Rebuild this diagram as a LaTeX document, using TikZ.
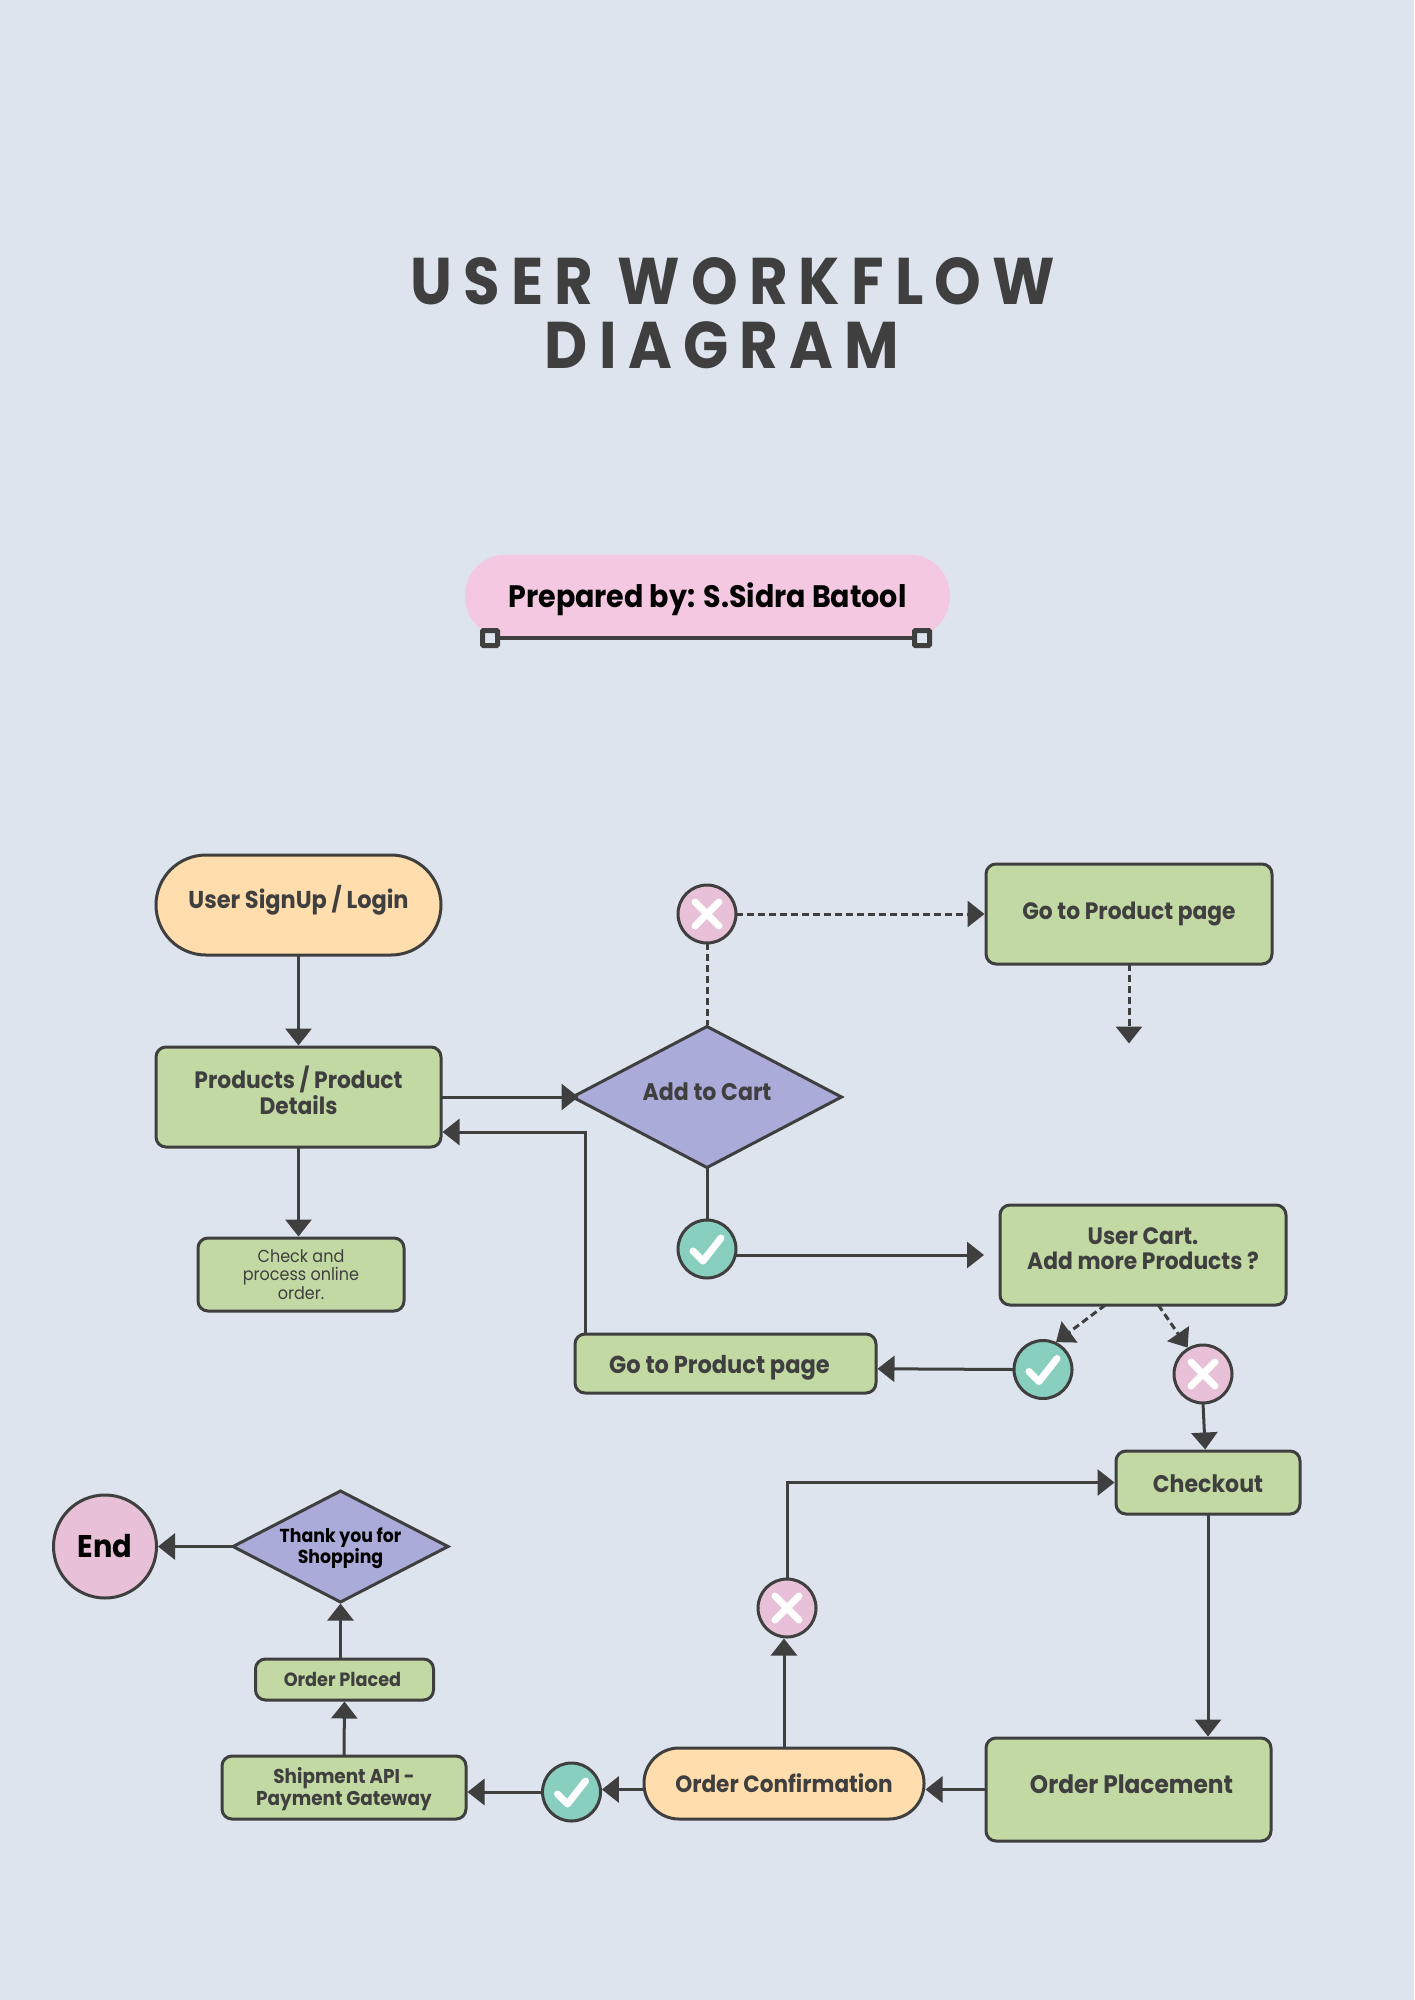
\documentclass[tikz,border=0pt]{standalone}
\usepackage{fontspec}
\setmainfont{Poppins}[FakeStretch=0.92]
\newfontfamily\titlefont[LetterSpace=17,FakeStretch=0.9]{Poppins}
\usetikzlibrary{arrows.meta,shapes.geometric}
\definecolor{pageBlue}{HTML}{DDE4EE}
\definecolor{inkGrey}{HTML}{3F3F3F}
\definecolor{boxGreen}{HTML}{C2D9A4}
\definecolor{pillOrange}{HTML}{FFDDAC}
\definecolor{gateViolet}{HTML}{ABABD9}
\definecolor{noPink}{HTML}{E8C0D8}
\definecolor{yesTeal}{HTML}{89CFC0}
\definecolor{bannerPink}{HTML}{F5C8E2}
\newcommand{\fsize}[2]{\fontsize{#1}{#2}\selectfont}
\newcommand{\lift}[2]{\raisebox{\dimexpr#1-0.25em\relax}[0pt][0pt]{\begin{tabular}{@{}c@{}}#2\end{tabular}}}

\begin{document}
\begin{tikzpicture}[x=1pt, y=-1pt, shorten >=1.5pt]
    \tikzstyle{boxStyle} = [rectangle,draw=inkGrey,fill=boxGreen,line width=3pt,rounded corners=10pt,
        inner sep=0pt,outer sep=0pt,align=center,text=inkGrey,font=\fsize{23.7}{25.5}\bfseries]
    \tikzstyle{pillStyle} = [boxStyle,fill=pillOrange]
    \tikzstyle{gateStyle} = [diamond,shape aspect=1.9,draw=inkGrey,fill=gateViolet,line width=3pt,inner sep=0pt,
        outer sep=0pt,align=center,text=inkGrey,font=\fsize{24}{25.5}\bfseries]
    \tikzstyle{noStyle} = [circle,draw=inkGrey,fill=noPink,line width=3pt,minimum size=58pt,inner sep=0pt,outer sep=0pt]
    \tikzstyle{yesStyle} = [noStyle,fill=yesTeal]
    \tikzstyle{handleStyle} = [rectangle,draw=inkGrey,fill=pageBlue,line width=5pt,rounded corners=1pt,minimum size=15pt,inner sep=0pt,outer sep=0pt]
    \tikzstyle{solidEdge} = [draw=inkGrey,line width=3pt,-{Triangle[length=17pt,width=26pt]}]
    \tikzstyle{dashEdge} = [solidEdge,dash pattern=on 7pt off 4pt]
    \tikzstyle{markStroke} = [draw=white,line width=7pt,line cap=round,line join=round,shorten >=0pt]

    \fill[pageBlue] (0,0) rectangle (1414,2000);
    \useasboundingbox (0,0) rectangle (1414,2000);

    \node[text=inkGrey,align=center,font=\fsize{66}{64}\titlefont\bfseries] (title) at (733,313) {USER WORKFLOW\\DIAGRAM\hspace*{22pt}};

    \node[rectangle,fill=bannerPink,rounded corners=41pt,minimum width=485pt,minimum height=83pt,inner sep=0pt,
        font=\fsize{31}{31}\bfseries,text=black] (banner) at (707.5,596) {\lift{-2pt}{Prepared by: S.Sidra Batool}};
    \node[handleStyle] (handleL) at (490,638) {};
    \node[handleStyle] (handleR) at (922,638) {};
    \draw[draw=inkGrey,line width=4pt,shorten >=0pt] (handleL) -- (handleR);

    \node[pillStyle,rounded corners=50pt,minimum width=285pt,minimum height=100pt,font=\fsize{24.4}{25.5}\bfseries] (signup) at (298.5,905) {\lift{4pt}{User SignUp / Login}};
    \node[boxStyle,minimum width=285pt,minimum height=100pt] (products) at (298.5,1097) {\lift{2.5pt}{Products / Product\\Details}};
    \node[boxStyle,minimum width=206pt,minimum height=73pt,font=\fsize{17.4}{18.5}] (checkOrder) at (301,1274.5) {Check and\\process online\\order.};
    \node[gateStyle,minimum width=269pt,minimum height=141pt] (addCart) at (707,1097) {\lift{1.5pt}{Add to Cart}};
    \node[noStyle] (noCart) at (707,914) {};
    \node[yesStyle] (yesCart) at (707,1249) {};
    \node[boxStyle,minimum width=286pt,minimum height=100pt] (goProduct) at (1129,914) {\lift{-1pt}{Go to Product page}};
    \coordinate (goEnd) at (1129,1045);
    \node[boxStyle,minimum width=286pt,minimum height=100pt] (userCart) at (1143,1255) {\lift{3pt}{User Cart.\\Add more Products ?}};
    \node[yesStyle] (yesBack) at (1043,1369.5) {};
    \node[noStyle] (noBack) at (1203,1374) {};
    \node[boxStyle,minimum width=301pt,minimum height=59pt,font=\fsize{24.5}{25.5}\bfseries] (goBack) at (725.5,1363.5) {\lift{-4.5pt}{Go to Product page}\hspace{12pt}};
    \coordinate (backTurn) at (585,1132);
    \node[boxStyle,minimum width=184pt,minimum height=63pt,font=\fsize{24}{25.5}\bfseries] (checkout) at (1208,1482.5) {\lift{-5pt}{Checkout}};
    \node[boxStyle,minimum width=285pt,minimum height=103pt,font=\fsize{25.3}{26}\bfseries] (orderPlace) at (1128.5,1789.5) {\hspace{6pt}\lift{1.5pt}{Order Placement}};
    \node[pillStyle,rounded corners=35pt,minimum width=280pt,minimum height=71pt,font=\fsize{23.5}{25.5}\bfseries] (orderConf) at (784,1783.5) {Order Confirmation};
    \node[noStyle] (noOrder) at (787,1608) {};
    \node[yesStyle] (yesOrder) at (571.5,1792) {};
    \node[boxStyle,minimum width=244pt,minimum height=63pt,font=\fsize{20}{22}\bfseries] (shipment) at (344,1787.5) {\lift{-2pt}{Shipment API -\\Payment Gateway}};
    \node[boxStyle,minimum width=178pt,minimum height=41pt,font=\fsize{19.2}{20}\bfseries] (orderPlaced) at (344.5,1679.5) {Order Placed\hspace{4pt}};
    \node[gateStyle,minimum width=215pt,minimum height=111pt,text=black,font=\fsize{18.8}{20}\bfseries] (thanks) at (340.5,1546.5) {\lift{-2pt}{Thank you for\\Shopping}};
    \node[circle,draw=inkGrey,fill=noPink,line width=3pt,minimum size=103pt,inner sep=0pt,outer sep=0pt,font=\fsize{31.3}{32}\bfseries] (endNode) at (105,1546.5) {End};

    \foreach \name in {noCart,noBack,noOrder}
        \draw[markStroke] (\name.center) +(-12,-12) -- +(12,12) (\name.center) +(-12,12) -- +(12,-12);
    \foreach \name in {yesCart,yesBack,yesOrder}
        \draw[markStroke] (\name.center) +(-14,2) -- +(-4,12) -- +(14,-11);

    \foreach \from/\to in {signup.south/products.north, checkout.south/checkout.south |- orderPlace.north,
        products.south/products.south |- checkOrder.north, orderPlace.west/orderPlace.west -| orderConf.east,
        orderConf.north/orderConf.north |- noOrder.south, noBack.270/checkout.95, shipment.north/orderPlaced.south,
        thanks.south |- orderPlaced.north/thanks.south, thanks.west/endNode.east,
        yesBack.west/goBack.-2, yesOrder.west/yesOrder.west -| shipment.east, orderConf.west |- yesOrder.5/yesOrder.5}
        \path[solidEdge] (\from) -- (\to);
    \foreach \from/\to in {noCart.east/goProduct.west, goProduct.south/goEnd, userCart.233/yesBack.66, userCart.287/noBack.120}
        \path[dashEdge] (\from) -- (\to);
    \path[draw=inkGrey,line width=3pt,dash pattern=on 7pt off 4pt] (noCart.south) -- (addCart.north);
    \path[draw=inkGrey,line width=3pt] (addCart.south) -- (yesCart.north);
    \path[solidEdge,shorten >=-6pt] (products.east) -- (addCart.west);
    \path[solidEdge,shorten >=16pt] (yesCart.east |- userCart.west) -- (userCart.west);
    \path[solidEdge] (backTurn |- goBack.north) -- (backTurn) -- (products.east |- backTurn);
    \path[solidEdge] (noOrder.north) |- (checkout.west);
\end{tikzpicture}
\end{document}
